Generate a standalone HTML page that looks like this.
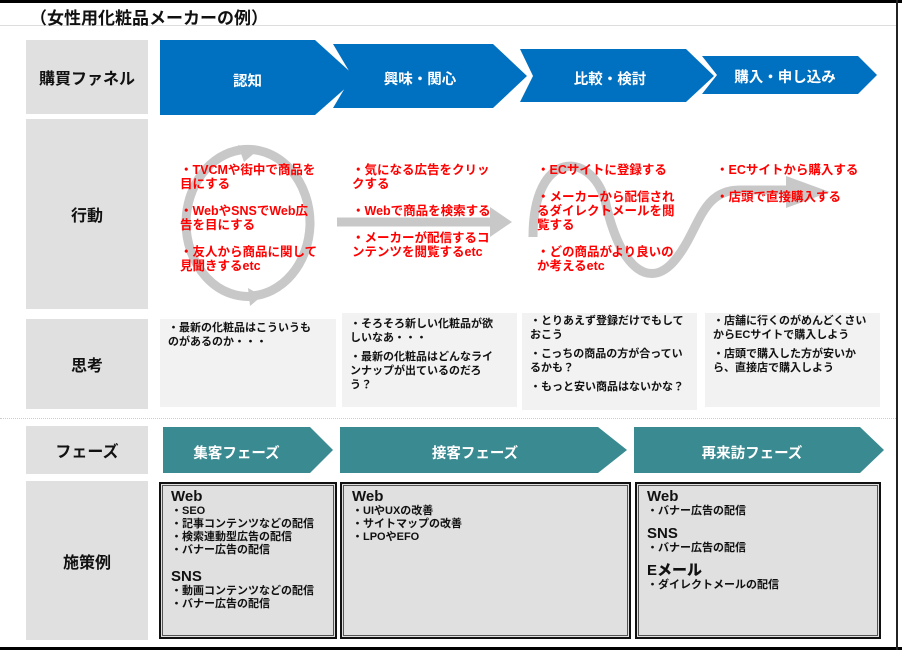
<!DOCTYPE html>
<html><head><meta charset="utf-8"><style>
body{margin:0;width:902px;height:650px;overflow:hidden;background:#fff;position:relative;font-family:"Liberation Sans","Noto Sans CJK JP",sans-serif;font-weight:bold}
.a{position:absolute}
.lab{position:absolute;left:26px;width:122px;background:#e0e0e0;display:flex;align-items:center;justify-content:center;font-size:16px;color:#111}
.r{position:absolute;color:#ff0000;font-size:12.5px;line-height:14px;width:140px}
.r p{margin:0 0 13px 0}
.t{position:absolute;color:#111;font-size:11px;line-height:14px}
.t p{margin:0 0 5px 0}
.w{position:absolute;color:#fff;font-size:14.5px;text-align:center}
.box{position:absolute;background:#e0e0e0;border:2px solid #111;box-sizing:border-box;outline:1px solid #555;outline-offset:-4px;font-size:11px;line-height:13px;padding:5px 0 0 10px;color:#111}
.box b{font-size:15px;display:block;line-height:16px}
</style></head><body>
<div class="a" style="left:0;top:0;width:902px;height:3px;background:#000"></div>
<div class="a" style="left:0;top:647px;width:902px;height:3px;background:#000"></div>
<div class="a" style="left:896px;top:0;width:2px;height:650px;background:#222"></div>
<div class="a" style="left:0;top:25px;width:896px;height:1px;background:#ddd"></div>
<div class="a" style="left:30px;top:4px;font-size:17px;color:#111">（女性用化粧品メーカーの例）</div>

<div class="lab" style="top:40px;height:74px">購買ファネル</div>
<div class="lab" style="top:119px;height:190px">行動</div>
<div class="lab" style="top:319px;height:90px">思考</div>
<div class="lab" style="top:426px;height:48px">フェーズ</div>
<div class="lab" style="top:481px;height:159px">施策例</div>
<div class="a" style="left:0;top:418px;width:896px;border-top:1px dotted #ccc"></div>

<div class="a" style="left:160px;top:319px;width:176px;height:88px;background:#f2f2f2"></div>
<div class="a" style="left:342px;top:313px;width:175px;height:94px;background:#f2f2f2"></div>
<div class="a" style="left:522px;top:313px;width:175px;height:97px;background:#f2f2f2"></div>
<div class="a" style="left:705px;top:313px;width:175px;height:94px;background:#f2f2f2"></div>

<svg class="a" style="left:0;top:0" width="902" height="650">
<g fill="#0070c0">
<polygon points="160,40 315,40 357,78 315,115 160,115"/>
<polygon points="333,44 493,44 527,76 493,108 333,108 352,76"/>
<polygon points="520,49 686,49 714,76 686,102 520,102 533,76"/>
<polygon points="702,56 858,56 877,75 858,94 702,94 717,75"/>
</g>
<g fill="#3a8a91">
<polygon points="163,427 310,427 333,450 310,473 163,473"/>
<polygon points="340,427 598,427 627,450 598,473 340,473"/>
<polygon points="634,427 860,427 884,450 860,473 634,473"/>
</g>
<g fill="none" stroke="#c8c8c8" stroke-width="9">
<path d="M240,150 A62,74 0 0 1 310,225 A62,74 0 0 1 250,296"/>
<path d="M255,296 A62,74 0 0 1 186,222 A62,74 0 0 1 240,150"/>
<path d="M337,222 L495,222"/>
<path d="M533,237 C533,150 590,150 605,200 C620,270 650,290 675,260 C700,230 700,190 740,190 L795,190"/>
</g>
<g fill="#c8c8c8">
<polygon points="238,145 258,150 244,162"/>
<polygon points="248,288 262,296 250,306"/>
<polygon points="490,207 512,222 490,237"/>
<polygon points="786,176 830,192 786,208"/>
</g>
</svg>

<div class="w" style="left:160px;top:70px;width:175px">認知</div>
<div class="w" style="left:345px;top:68px;width:150px">興味・関心</div>
<div class="w" style="left:530px;top:68px;width:160px">比較・検討</div>
<div class="w" style="left:710px;top:66px;width:150px">購入・申し込み</div>
<div class="w" style="left:163px;top:442px;width:147px">集客フェーズ</div>
<div class="w" style="left:340px;top:442px;width:270px">接客フェーズ</div>
<div class="w" style="left:634px;top:442px;width:236px">再来訪フェーズ</div>

<div class="r" style="left:180px;top:163px"><p>・TVCMや街中で商品を目にする</p><p>・WebやSNSでWeb広告を目にする</p><p>・友人から商品に関して見聞きするetc</p></div>
<div class="r" style="left:352px;top:163px"><p>・気になる広告をクリックする</p><p>・Webで商品を検索する</p><p>・メーカーが配信するコンテンツを閲覧するetc</p></div>
<div class="r" style="left:537px;top:163px"><p>・ECサイトに登録する</p><p>・メーカーから配信されるダイレクトメールを閲覧する</p><p>・どの商品がより良いのか考えるetc</p></div>
<div class="r" style="left:716px;top:163px;width:150px"><p>・ECサイトから購入する</p><p>・店頭で直接購入する</p></div>

<div class="t" style="left:168px;top:321px;width:152px"><p>・最新の化粧品はこういうものがあるのか・・・</p></div>
<div class="t" style="left:350px;top:317px;width:152px"><p>・そろそろ新しい化粧品が欲しいなあ・・・</p><p>・最新の化粧品はどんなラインナップが出ているのだろう？</p></div>
<div class="t" style="left:530px;top:314px;width:160px"><p>・とりあえず登録だけでもしておこう</p><p>・こっちの商品の方が合っているかも？</p><p>・もっと安い商品はないかな？</p></div>
<div class="t" style="left:713px;top:314px;width:162px"><p>・店舗に行くのがめんどくさいからECサイトで購入しよう</p><p>・店頭で購入した方が安いから、直接店で購入しよう</p></div>

<div class="box" style="left:159px;top:482px;width:178px;height:157px"><b>Web</b>・SEO<br>・記事コンテンツなどの配信<br>・検索連動型広告の配信<br>・バナー広告の配信<br><b style="margin-top:12px">SNS</b>・動画コンテンツなどの配信<br>・バナー広告の配信</div>
<div class="box" style="left:340px;top:482px;width:291px;height:157px"><b>Web</b>・UIやUXの改善<br>・サイトマップの改善<br>・LPOやEFO</div>
<div class="box" style="left:635px;top:482px;width:246px;height:157px"><b>Web</b>・バナー広告の配信<br><b style="margin-top:8px">SNS</b>・バナー広告の配信<br><b style="margin-top:8px">Eメール</b>・ダイレクトメールの配信</div>
</body></html>
